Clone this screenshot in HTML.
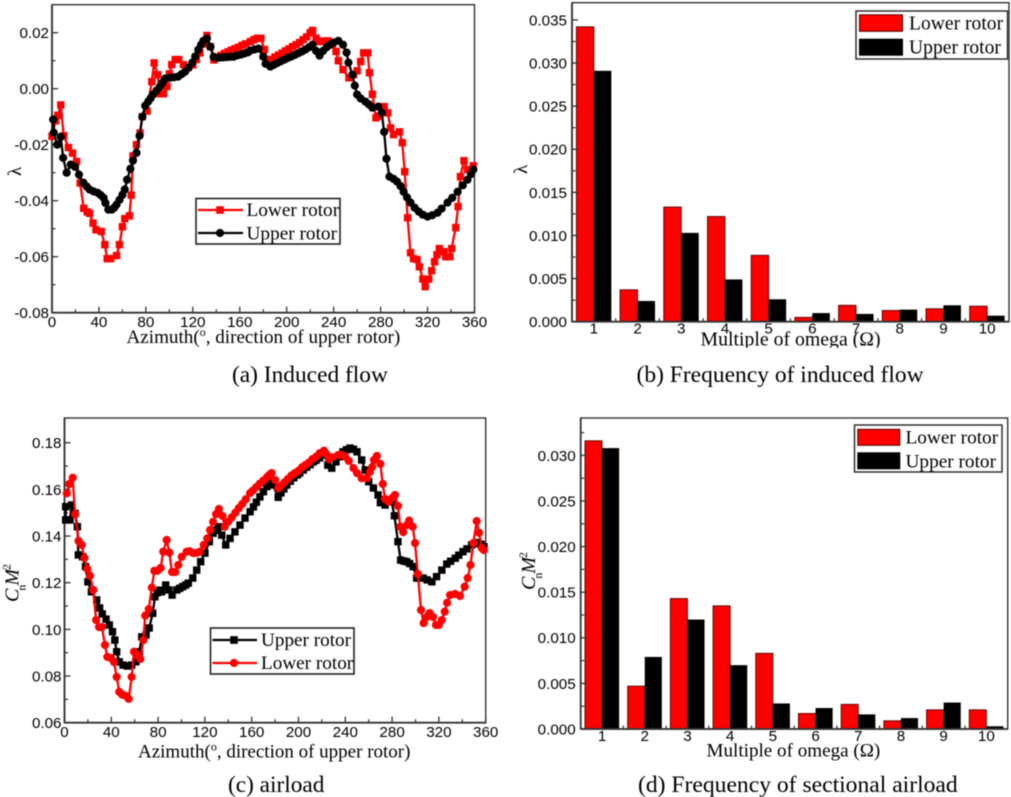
<!DOCTYPE html>
<html lang="en">
<head>
<meta charset="utf-8">
<title>Rotor induced flow and airload charts</title>
<style>
html,body{margin:0;padding:0;background:#fff;width:1011px;height:797px;overflow:hidden}
svg{display:block;filter:blur(0.5px)}
.t{font-family:"Liberation Serif",serif;fill:#000}
.s{font-family:"Liberation Sans",sans-serif;fill:#000}
</style>
</head>
<body>
<svg id="fig" xmlns="http://www.w3.org/2000/svg" width="1011" height="797" viewBox="0 0 1011 797">
  <defs>
    <clipPath id="clipB"><rect x="680" y="325" width="220" height="22.7"/></clipPath>
  </defs>
  <rect x="0" y="0" width="1011" height="797" fill="#fff"/>
  <g id="panelA"></g>
  <g id="panelB"></g>
  <g id="panelC"></g>
  <g id="panelD"></g>

  <!-- Panel A text -->
  <text class="t" x="126.5" y="343" font-size="19.1">Azimuth(<tspan dy="-7" font-size="12">o</tspan><tspan dy="7">, direction of upper rotor)</tspan></text>
  <text class="t" transform="translate(21,176) rotate(-90)" font-size="19">λ</text>
  <text class="t" x="232" y="382" font-size="23.4">(a) Induced flow</text>
  <g>
    <rect x="196" y="198.5" width="144" height="45.5" fill="#fff" stroke="#222" stroke-width="1.6"/>
    <line x1="198" x2="243" y1="210" y2="210" stroke="#f00" stroke-width="2.2"/>
    <rect x="216.2" y="206.2" width="7.6" height="7.6" fill="#f00"/>
    <text class="t" x="246.5" y="216" font-size="19.3">Lower rotor</text>
    <line x1="198" x2="243" y1="233" y2="233" stroke="#000" stroke-width="2.2"/>
    <circle cx="220" cy="233" r="4.1" fill="#000"/>
    <text class="t" x="246.5" y="239.5" font-size="19.3">Upper rotor</text>
  </g>

  <!-- Panel B text -->
  <text class="t" clip-path="url(#clipB)" x="700.5" y="345.5" font-size="19.8">Multiple of omega (Ω)</text>
  <text class="t" transform="translate(527,174) rotate(-90)" font-size="19">λ</text>
  <text class="t" x="636.5" y="382" font-size="23.5">(b) Frequency of induced flow</text>
  <g>
    <rect x="856" y="11" width="151.5" height="48" fill="#fff" stroke="#222" stroke-width="1.4"/>
    <rect x="859.5" y="14.8" width="43" height="16.5" fill="#f00" stroke="#500" stroke-width="1"/>
    <text class="t" x="909" y="29.5" font-size="19.6">Lower rotor</text>
    <rect x="859" y="38.7" width="44" height="17" fill="#000"/>
    <text class="t" x="909" y="53.5" font-size="19.6">Upper rotor</text>
  </g>

  <!-- Panel C text -->
  <text class="t" x="138" y="757.5" font-size="19">Azimuth(<tspan dy="-7" font-size="12">o</tspan><tspan dy="7">, direction of upper rotor)</tspan></text>
  <text class="t" transform="translate(18.5,602) rotate(-90)" font-size="20" font-style="italic">C<tspan dx="-2" dy="7" font-size="12" font-style="normal">n</tspan><tspan dx="-1" dy="-7">M</tspan><tspan dx="-1" dy="-8" font-size="12" font-style="normal">2</tspan></text>
  <text class="t" x="228" y="792" font-size="23.3">(c) airload</text>
  <g>
    <rect x="210.5" y="628" width="143.5" height="46" fill="#fff" stroke="#222" stroke-width="1.6"/>
    <line x1="212.5" x2="257" y1="640" y2="640" stroke="#000" stroke-width="2.2"/>
    <rect x="230.2" y="636.2" width="7.6" height="7.6" fill="#000"/>
    <text class="t" x="261" y="646" font-size="19.2">Upper rotor</text>
    <line x1="212.5" x2="257" y1="663" y2="663" stroke="#f00" stroke-width="2.2"/>
    <circle cx="234" cy="663" r="4.1" fill="#f00"/>
    <text class="t" x="261" y="669" font-size="19.2">Lower rotor</text>
  </g>

  <!-- Panel D text -->
  <text class="t" x="706.5" y="756.5" font-size="19.1">Multiple of omega (Ω)</text>
  <text class="t" transform="translate(535,590) rotate(-90)" font-size="20" font-style="italic">C<tspan dx="-2" dy="7" font-size="12" font-style="normal">n</tspan><tspan dx="-1" dy="-7">M</tspan><tspan dx="-1" dy="-8" font-size="12" font-style="normal">2</tspan></text>
  <text class="t" x="638" y="792" font-size="23.6">(d) Frequency of sectional airload</text>
  <g>
    <rect x="854.5" y="425" width="147.5" height="47" fill="#fff" stroke="#222" stroke-width="1.4"/>
    <rect x="857.8" y="429.3" width="42" height="16" fill="#f00" stroke="#500" stroke-width="1"/>
    <text class="t" x="905.5" y="443.3" font-size="19.3">Lower rotor</text>
    <rect x="857.3" y="452.3" width="43" height="17" fill="#000"/>
    <text class="t" x="905.5" y="467.3" font-size="19.3">Upper rotor</text>
  </g>
</svg>

<script>
/* ---------- Panel A: induced flow vs azimuth ---------- */
const aLowerAz = [
0,3,5,7.5,10,14,17.5,21,24,27,
30,32,35,37.5,42,45,47,50,55,57.5,
60,62,66,67.5,69,72,75,77,81,85,
87,90,92,95,98,100,102,105,108,112,
116,120,123,126,129,132,135,138,141,144,
147,150,153,156,159,162,165,169,172,175,
178,181,184,187,190,193,196,199,202,205,
208,211,214,217,220,222,225,227,231,235,
239,242,244,248,253,257,260,263,265.5,269,
270.5,273,276,278,283,286,288.5,291,296,298.5,
300.5,303,305.5,308,311,313,316,318,321,323.5,
326,328,330,334,335.5,339,340.5,344,346,348,
351,354,359];
const aLowerVal = [
-.017,-.0115,-.0095,-.0058,-.0168,-.021,-.023,-.026,-.0337,-.0427,
-.044,-.0445,-.048,-.0504,-.051,-.0557,-.0607,-.0607,-.0596,-.0557,
-.0493,-.0464,-.0454,-.038,-.024,-.02,-.0158,-.01,-.008,.0025,
.0092,.005,-.0018,-.0018,.0008,.0053,.0086,.0104,.0104,.0086,
.0075,.0085,.0104,.0128,.016,.019,.015,.0103,.0112,.0119,
.0126,.0132,.0138,.0143,.0148,.0155,.016,.0168,.0175,.018,
.018,.014,.0097,.0105,.0113,.012,.0127,.0135,.0142,.015,
.0157,.0165,.0175,.0185,.02,.0208,.018,.0168,.017,.0171,
.016,.0133,.01,.0068,.0039,.005,.0064,.0097,.0128,.0128,
.0057,-.002,-.0104,-.0098,-.0064,-.0086,-.014,-.0164,-.0154,-.0193,
-.0296,-.0461,-.0586,-.0607,-.061,-.0636,-.068,-.0707,-.068,-.065,
-.0618,-.0593,-.0571,-.0582,-.06,-.06,-.0571,-.0496,-.0421,-.0314,
-.0257,-.0289,-.0275];
const aUpperAz = [
1,1.5,4.5,7.5,9.5,12.5,16,19.6,23,26.8,
29.5,32,35.5,39,41.5,44,45.5,48,51,53,
55,57.5,60,62,64,66.8,69,72,74.6,77,
79.4,82,84,86,89,92,94,96.4,100.7,104,
107.5,110.5,113.5,116.5,119.5,122,124.6,127,129,132,
135,137.7,140,143,146,149,152,154.6,158,161,
164,167,169,172.5,176,180,182,186,189,192,
195,198,201,204,207,210,213,216,219,222,
225,228,231,234,237,240,244,248,251,252.6,
256,258,260,263,267,270,273,278,281,283,
285,287.5,291,294,297,299.6,302.5,305.5,309,312.5,
316,320,324,328.5,332,337,341,345.6,350,354,
357,359];
const aUpperVal = [
-.011,-.0157,-.02,-.0172,-.0247,-.03,-.0271,-.0279,-.0307,-.0336,
-.0349,-.036,-.0367,-.0372,-.038,-.039,-.0408,-.0432,-.0432,-.0425,
-.0414,-.0397,-.0379,-.036,-.0325,-.0286,-.0257,-.0229,-.0168,-.01,
-.0061,-.0046,-.0034,-.0021,-.0007,.0008,.0021,.0036,.0039,.0041,
.0043,.0052,.0061,.0076,.0093,.0115,.0139,.0157,.0171,.0179,
.015,.0114,.011,.0111,.0112,.0113,.0114,.0114,.0119,.0122,
.0126,.013,.0136,.014,.0143,.0114,.0089,.0079,.0085,.0092,
.0098,.0104,.011,.0115,.0121,.0127,.0133,.014,.0148,.0157,
.0135,.0118,.0135,.0148,.0157,.0165,.0171,.0157,.0129,.0093,
.005,.0011,-.0021,-.0035,-.0046,-.0056,-.0068,-.0064,-.0086,-.0154,
-.025,-.0314,-.0322,-.0332,-.0348,-.0368,-.0388,-.0407,-.0425,-.0439,
-.045,-.0457,-.0452,-.0443,-.0428,-.0407,-.039,-.0368,-.0345,-.0325,
-.0305,-.0289];
const aYTicks = ['0.02','0.00','-0.02','-0.04','-0.06','-0.08'];
const aYMinor = [0.01,-0.01,-0.03,-0.05,-0.07];

/* ---------- Panel C: airload vs azimuth ---------- */
const cLowerAz = [
2,4,7,9,12,14.7,17,19.5,21.8,24.6,
27,29.5,32,34.6,36.6,39.7,42.3,44.6,46.8,49.4,
52.3,54.9,57.4,59.4,62,64.8,67.4,69,72,74.6,
76.8,79.3,82.2,84.4,87.3,89.6,91.9,94.7,97.3,100.2,
104.4,107,110,113,115.8,119,122,124.4,127,129.5,
132,135,137,140,143,146,149,152,155,158.6,
161,164,167,170,173,175,177,180,182.7,185,
188,191,194,197,200,203,206,209,212,215,
218,221.8,224,226,229,233.8,237,240,243,247,
250,254,258.5,261,263,264.5,267,270,272,274,
277,280,282.5,285,287,289.5,292.6,294.6,297.6,299.6,
302,304.7,307,309.6,312,315,317.5,320,322.4,325,
327,329.5,333.8,338,342,344.6,347,349.4,352.3,354.3,
356.6,358.5];
const cLowerVal = [
.1583,.1623,.165,.1494,.1379,.1362,.1306,.1259,.123,.1169,
.104,.101,.101,.0933,.0882,.0877,.086,.0796,.0732,.072,
.0715,.0702,.0796,.0904,.089,.0873,.0954,.1059,.1087,.1179,
.1251,.1251,.1263,.1333,.1383,.1329,.1246,.1246,.1276,.1311,
.1333,.1335,.1327,.1328,.1333,.1362,.139,.1426,.1461,.1494,
.1516,.1486,.144,.1462,.148,.15,.152,.1538,.1558,.1584,
.1595,.161,.1625,.1638,.1652,.1662,.167,.164,.1605,.1615,
.163,.1645,.166,.167,.168,.1695,.1705,.1715,.173,.174,
.1755,.1766,.175,.173,.1738,.1747,.1748,.174,.1722,.1691,
.167,.1648,.1648,.1675,.1696,.1726,.1743,.1709,.1623,.1559,
.1547,.1563,.1576,.1529,.144,.1417,.1447,.1466,.144,.137,
.1237,.1083,.1027,.1053,.107,.1053,.1019,.1019,.104,.1076,
.1114,.1147,.1152,.1143,.1183,.122,.1276,.137,.1464,.1414,
.1349,.134];
const cUpperAz = [
1,1,4.7,6,9,11,11.8,15.5,18,20,
23,27.5,30,32.3,35.5,38.3,41,43,44.6,46.8,
50,53.7,57.4,61,64,66,69.7,72.4,75.4,77.3,
79.3,81.6,83,86.5,89.3,92,96,98.5,101,103.5,
105.8,109.6,113,116.4,120,123.8,127,129.5,131.5,134.4,
137.8,141.5,145.7,150,154.3,158.6,161.5,164,167,170,
173,175.6,178,182.7,185,187.5,190,193,196,199,
201,204,207,210,212.6,215,218,222.6,225,228.4,
232,235,238,241,244,247,250,254,257,260,
264,268,270,274,279.6,282,285,287.3,290,292.5,
295,298,301,303.5,306.5,310,314,318,322.5,326.7,
330,334,337,340.6,344,348,351,353.4,356,358.5];
const cUpperVal = [
.1526,.1469,.1469,.1533,.1497,.144,.1319,.1311,.1269,.1204,
.1161,.1126,.1092,.1066,.1044,.1019,.099,.0954,.0904,.0861,
.0847,.0843,.0847,.0861,.0904,.0968,.0976,.1006,.1069,.114,
.1157,.1168,.1161,.119,.1169,.1147,.1169,.1176,.1183,.119,
.1198,.122,.1254,.129,.1327,.1376,.1412,.1425,.144,.1404,
.1362,.139,.1418,.1447,.1477,.1504,.1525,.1545,.1568,.159,
.1612,.1633,.1619,.1566,.1585,.1602,.1619,.1635,.165,.1662,
.167,.1683,.1695,.1706,.1718,.1725,.1735,.1747,.1704,.1691,
.1718,.174,.1761,.177,.1777,.1772,.1761,.1726,.1683,.1633,
.1606,.1576,.1543,.1533,.1547,.1487,.1376,.1297,.1293,.129,
.1282,.1269,.122,.122,.122,.1212,.1204,.1226,.1254,.128,
.1292,.1305,.1318,.1333,.1345,.1362,.1368,.1372,.1365,.1354];
const cYTicks = ['0.18','0.16','0.14','0.12','0.10','0.08','0.06'];
const cYMinor = [0.17,0.15,0.13,0.11,0.09,0.07];

/* Shared azimuth axis */
const azTicks = ['0','40','80','120','160','200','240','280','320','360'];
const azMinor = [20,60,100,140,180,220,260,300,340];

/* ---------- Panels B and D: harmonic bars ---------- */
const harmonics = ['1','2','3','4','5','6','7','8','9','10'];
const harmonicMinor = [1.5,2.5,3.5,4.5,5.5,6.5,7.5,8.5,9.5];
const bLower = [.0342,.0037,.0133,.0122,.0077,.0005,.0019,.0013,.0015,.0018];
const bUpper = [.0291,.0024,.0103,.0049,.0026,.0010,.0009,.0014,.0019,.0007];
const bYTicks = ['0.000','0.005','0.010','0.015','0.020','0.025','0.030','0.035'];
const bYMinor = [.0025,.0075,.0125,.0175,.0225,.0275,.0325];
const dLower = [.0316,.0047,.0143,.0135,.0083,.0017,.0027,.0009,.0021,.0021];
const dUpper = [.0308,.0079,.0120,.0070,.0028,.0023,.0016,.0012,.0029,.0003];
const dYTicks = ['0.000','0.005','0.010','0.015','0.020','0.025','0.030'];
const dYMinor = [.0025,.0075,.0125,.0175,.0225,.0275,.0325];

const NS = 'http://www.w3.org/2000/svg';
function scale(d0, d1, p0, p1) {
  return function (v) { return p0 + (v - d0) / (d1 - d0) * (p1 - p0); };
}
function make(parent, tag, attrs) {
  const n = document.createElementNS(NS, tag);
  for (const k in attrs) n.setAttribute(k, attrs[k]);
  parent.appendChild(n);
  return n;
}

function drawAxes(g, box, x, y, xLabels, xMinor, yLabels, yMinor, labelDy, labelGap) {
  const frame = make(g, 'rect', {x: box.l, y: box.t, width: box.r - box.l, height: box.b - box.t, fill: 'none', stroke: '#333', 'stroke-width': 1.4});
  
  
  const leftAxis = make(g, 'line', {x1: box.l, x2: box.l, y1: box.t, y2: box.b, stroke: '#333', 'stroke-width': 1.8});
  
  
  const bottomAxis = make(g, 'line', {x1: box.l, x2: box.r, y1: box.b, y2: box.b, stroke: '#333', 'stroke-width': 1.8});
  
  

  yLabels.forEach(function (label) {
    const py = y(parseFloat(label));
    const tick = make(g, 'line', {x1: box.l, x2: box.l + 6, y1: py, y2: py, stroke: '#333', 'stroke-width': 1.3});
    
    
    const txt = make(g, 'text', {x: box.l - labelGap, y: py + 5.4, 'text-anchor': 'end', 'font-size': 15.2, class: 's'});
    
    
    txt.textContent = label;
  });
  yMinor.forEach(function (v) {
    const py = y(v);
    if (py < box.t) return;
    const tick = make(g, 'line', {x1: box.l, x2: box.l + 3.5, y1: py, y2: py, stroke: '#333', 'stroke-width': 1.2});
    
    
  });
  xLabels.forEach(function (label) {
    const px = x(parseFloat(label));
    const tick = make(g, 'line', {x1: px, x2: px, y1: box.b, y2: box.b - 6, stroke: '#333', 'stroke-width': 1.3});
    
    
    const txt = make(g, 'text', {x: px, y: box.b + labelDy, 'text-anchor': 'middle', 'font-size': 15.2, class: 's'});
    
    
    txt.textContent = label;
  });
  xMinor.forEach(function (v) {
    const px = x(v);
    const tick = make(g, 'line', {x1: px, x2: px, y1: box.b, y2: box.b - 3.5, stroke: '#333', 'stroke-width': 1.2});
    
    
  });
}

function drawSeries(g, az, vals, x, y, color, shape, seriesName) {
  const pts = az.map(function (a, i) { return x(a).toFixed(2) + ',' + y(vals[i]).toFixed(2); }).join(' ');
  const line = make(g, 'polyline', {points: pts, fill: 'none', stroke: color, 'stroke-width': 2.3, 'stroke-linejoin': 'round'});
  
  
  az.forEach(function (a, i) {
    const px = x(a), py = y(vals[i]);
    let m;
    if (shape === 'square') {
      m = make(g, 'rect', {x: px - 3.7, y: py - 3.7, width: 7.4, height: 7.4, fill: color});
    } else {
      m = make(g, 'circle', {cx: px, cy: py, r: 4.1, fill: color});
    }
    
    
  });
}

function drawBars(g, lower, upper, x, y, baseline) {
  const w = x(1.4) - x(1);
  harmonics.forEach(function (h, i) {
    const c = x(parseFloat(h));
    const lo = make(g, 'rect', {x: c - w, y: y(lower[i]), width: w, height: baseline - y(lower[i]), fill: '#f00', stroke: '#500', 'stroke-width': 0.9});
    
    
    const up = make(g, 'rect', {x: c, y: y(upper[i]), width: w, height: baseline - y(upper[i]), fill: '#000'});
    
    
  });
}

/* Panel A */
(function () {
  const box = {l: 52, r: 474.5, t: 4.7, b: 312.7};
  const x = scale(0, 360, box.l, box.r), y = scale(-0.08, 0.03, box.b, box.t);
  const g = document.getElementById('panelA');
  drawAxes(g, box, x, y, azTicks, azMinor, aYTicks, aYMinor, 14.5, 3);
  drawSeries(g, aLowerAz, aLowerVal, x, y, '#f00', 'square', 'lower-rotor');
  drawSeries(g, aUpperAz, aUpperVal, x, y, '#000', 'circle', 'upper-rotor');
})();

/* Panel B */
(function () {
  const box = {l: 572, r: 1009, t: 2.7, b: 321.7};
  const x = scale(0.5, 10.5, box.l, box.r), y = scale(0, 0.037, box.b, box.t);
  const g = document.getElementById('panelB');
  drawBars(g, bLower, bUpper, x, y, box.b);
  drawAxes(g, box, x, y, harmonics, harmonicMinor, bYTicks, bYMinor, 11.8, 5);
})();

/* Panel C */
(function () {
  const box = {l: 64.5, r: 485.7, t: 418, b: 722.7};
  const x = scale(0, 360, box.l, box.r), y = scale(0.06, 0.1906, box.b, box.t);
  const g = document.getElementById('panelC');
  drawAxes(g, box, x, y, azTicks, azMinor, cYTicks, cYMinor, 14.5, 3);
  drawSeries(g, cUpperAz, cUpperVal, x, y, '#000', 'square', 'upper-rotor');
  drawSeries(g, cLowerAz, cLowerVal, x, y, '#f00', 'circle', 'lower-rotor');
})();

/* Panel D */
(function () {
  const box = {l: 580.7, r: 1007.7, t: 418, b: 729};
  const x = scale(0.5, 10.5, box.l, box.r), y = scale(0, 0.0341, box.b, box.t);
  const g = document.getElementById('panelD');
  drawBars(g, dLower, dUpper, x, y, box.b);
  drawAxes(g, box, x, y, harmonics, harmonicMinor, dYTicks, dYMinor, 12, 5);
})();
</script>
</body>
</html>
